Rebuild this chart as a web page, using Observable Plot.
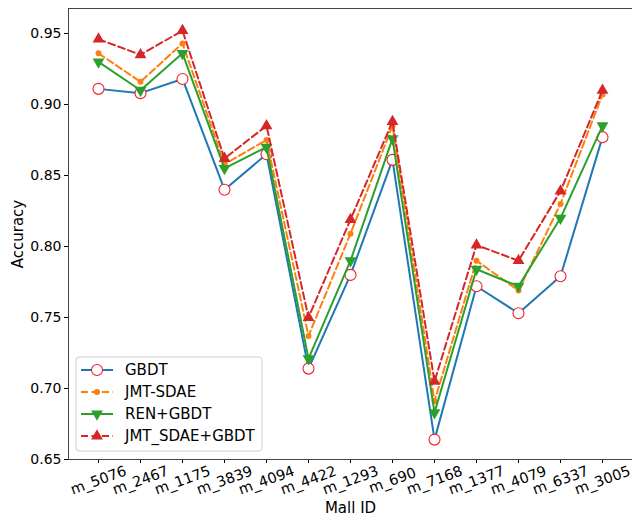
<!DOCTYPE html>
<html>
<head>
<meta charset="utf-8">
<script src="https://cdn.jsdelivr.net/npm/d3@7"></script>
<script src="https://cdn.jsdelivr.net/npm/@observablehq/plot@0.6"></script>
<style>
  html, body { margin: 0; padding: 0; background: #fff; }
  svg { font-family: "DejaVu Sans", sans-serif; }
</style>
</head>
<body>
<div id="chart"></div>
<script>
const malls = ["m_5076","m_2467","m_1175","m_3839","m_4094","m_4422","m_1293","m_690","m_7168","m_1377","m_4079","m_6337","m_3005"];
const seriesNames = ["GBDT","JMT-SDAE","REN+GBDT","JMT_SDAE+GBDT"];
const gbdt     = [0.911,0.908,0.918,0.840,0.865,0.714,0.780,0.861,0.664,0.772,0.753,0.779,0.877];
const jmtSdae  = [0.936,0.916,0.943,0.858,0.875,0.737,0.809,0.885,0.691,0.790,0.769,0.830,0.907];
const renGbdt  = [0.930,0.910,0.936,0.855,0.870,0.721,0.790,0.876,0.683,0.784,0.772,0.820,0.885];
const jmtGbdt  = [0.946,0.935,0.952,0.862,0.885,0.750,0.819,0.888,0.705,0.801,0.790,0.839,0.910];
const yTicks = [0.65,0.70,0.75,0.80,0.85,0.90,0.95];

const colors = ["#1f77b4","#ff7f0e","#2ca02c","#d62728"];
const allValues = [gbdt, jmtSdae, renGbdt, jmtGbdt];
const tables = allValues.map((vals, i) => malls.map((m, j) => ({mall: m, value: vals[j], series: seriesNames[i]})));

const styles = [
  {dash: null, symbol: "circle", r: 5.5, fill: "white", stroke: "#f0202a", sw: 1.1, rotate: 0},
  {dash: "7,3.5", symbol: "circle", r: 3, fill: colors[1], stroke: colors[1], sw: 0, rotate: 0},
  {dash: null, symbol: "triangle", r: 4.4, fill: colors[2], stroke: colors[2], sw: 0, rotate: 180},
  {dash: "7,3.5", symbol: "triangle", r: 4.4, fill: colors[3], stroke: colors[3], sw: 0, rotate: 0}
];

const marks = [];
tables.forEach((t, i) => {
  const s = styles[i];
  marks.push(Plot.line(t, {x: "mall", y: "value", stroke: colors[i], strokeWidth: 2, strokeDasharray: s.dash || undefined}));
  marks.push(Plot.dot(t, {x: "mall", y: "value", symbol: s.symbol, r: s.r, fill: s.fill, stroke: s.stroke, strokeWidth: s.sw, rotate: s.rotate}));
});

const chart = Plot.plot({
  width: 632,
  height: 518,
  marginLeft: 68,
  marginTop: 8,
  marginBottom: 59,
  marginRight: 0,
  style: {fontFamily: "DejaVu Sans, sans-serif", fontSize: "14px", color: "black", background: "white"},
  x: {type: "point", domain: malls, padding: 0.6},
  y: {domain: [0.65, 0.9676]},
  marks: [
    Plot.axisY({ticks: yTicks, tickFormat: d3.format(".2f"), tickSize: 4, tickPadding: 3, fontSize: 14, label: null}),
    Plot.axisX({tickSize: 4, tickFormat: () => "", label: null}),
    Plot.text(["Accuracy"], {text: d => d, frameAnchor: "left", dx: -50, rotate: -90, textAnchor: "middle", lineAnchor: "middle", fontSize: 15, fill: "black"}),
    Plot.text(["Mall ID"], {text: d => d, frameAnchor: "bottom", dy: 49, textAnchor: "middle", lineAnchor: "middle", fontSize: 15, fill: "black"}),
    Plot.text(malls, {x: d => d, text: d => d, frameAnchor: "bottom", dy: 21, rotate: -20, textAnchor: "middle", lineAnchor: "middle", fontSize: 14.5, fill: "black"}),
    Plot.frame({stroke: "#444", strokeWidth: 1}),
    ...marks
  ]
});
document.getElementById("chart").appendChild(chart);

// Legend
const svg = d3.select(chart);
const lg = svg.append("g").attr("transform", "translate(76,357)").attr("text-anchor", "start");
lg.append("rect").attr("width", 186).attr("height", 94).attr("rx", 3)
  .attr("fill", "white").attr("fill-opacity", 0.85).attr("stroke", "#d0d0d0");
seriesNames.forEach((name, i) => {
  const s = styles[i];
  const y = 13 + i * 22;
  lg.append("line").attr("x1", 5).attr("x2", 37).attr("y1", y).attr("y2", y)
    .attr("stroke", colors[i]).attr("stroke-width", 2).attr("stroke-dasharray", s.dash);
  const sym = s.symbol === "circle" ? d3.symbolCircle : d3.symbolTriangle;
  lg.append("path").attr("d", d3.symbol(sym, Math.PI * s.r * s.r)())
    .attr("transform", `translate(21,${y}) rotate(${s.rotate})`)
    .attr("fill", s.fill).attr("stroke", s.sw ? s.stroke : "none").attr("stroke-width", s.sw);
  lg.append("text").attr("x", 49).attr("y", y).attr("dy", "0.35em")
    .attr("text-anchor", "start").attr("font-size", 15).attr("fill", "black").text(name);
});
</script>
</body>
</html>
